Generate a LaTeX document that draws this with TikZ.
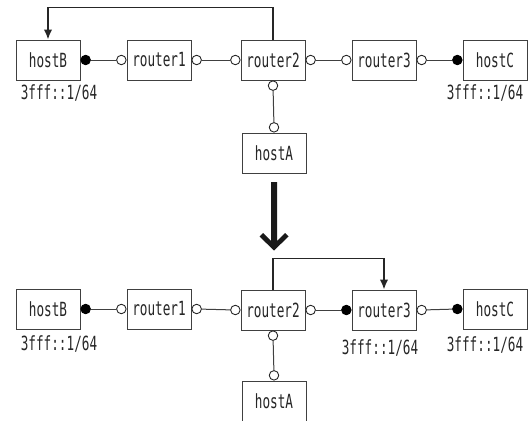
\documentclass[tikz,border=0pt]{standalone}
\usepackage{fontspec}
\newfontfamily\jfont[FakeStretch=0.65]{DejaVu Sans Mono}
\usetikzlibrary{arrows.meta}
\tikzset{
  box/.style={draw=black!75, line width=0.9pt, fill=white, minimum width=64pt, minimum height=40pt, inner sep=0pt, font=\jfont\fontsize{19.5}{22}\selectfont, text=black!85},
  opencirc/.style={circle, draw=black!85, line width=0.9pt, fill=white, minimum size=9.5pt, inner sep=0pt},
  fullcirc/.style={circle, draw=black, line width=0.9pt, fill=black, minimum size=9.5pt, inner sep=0pt},
  link/.style={draw=black!75, line width=1pt},
  flow/.style={draw=black!85, line width=1.7pt, -{Latex[length=10pt,width=8.5pt]}},
  addr/.style={font=\jfont\fontsize{19.5}{22}\selectfont, text=black!85, inner sep=0pt},
}
\begin{document}
\begin{tikzpicture}[x=1pt,y=-1pt]
\useasboundingbox (0,0) rectangle (532,420);
% ---------- top network ----------
\node[box] (hB) at (48,60) {hostB};
\node[box] (r1) at (159,60) {router1};
\node[box] (r2) at (273,60) {router2};
\node[box] (r3) at (384,60) {router3};
\node[box] (hC) at (495,60) {hostC};
\node[box] (hA) at (274,153) {hostA};
\node[fullcirc, anchor=west] (hBe) at (hB.east) {};
\node[opencirc, anchor=east] (r1w) at (r1.west) {};
\node[opencirc, anchor=west] (r1e) at (r1.east) {};
\node[opencirc, anchor=east] (r2w) at (r2.west) {};
\node[opencirc, anchor=west] (r2e) at (r2.east) {};
\node[opencirc, anchor=east] (r3w) at (r3.west) {};
\node[opencirc, anchor=west] (r3e) at (r3.east) {};
\node[fullcirc, anchor=east] (hCw) at (hC.west) {};
\node[opencirc, anchor=north] (r2s) at (r2.south) {};
\node[opencirc, anchor=south] (hAn) at (hA.north) {};
\draw[link] (hBe) -- (r1w);
\draw[link] (r1e) -- (r2w);
\draw[link] (r2e) -- (r3w);
\draw[link] (r3e) -- (hCw);
\draw[link] (r2s) -- (hAn);
\node[addr] (lB) at (59,93) {3fff::1/64};
\node[addr] (lC) at (485,93) {3fff::1/64};
\draw[flow] (r2.north) -- ++(0,-32) -| (hB.north);
% ---------- big arrow ----------
\fill[black!90] (271,182) -- (277,182) -- (277,241) -- (285,233) -- (288.5,236.5) -- (274,250.5) -- (259.5,236.5) -- (263,233) -- (271,241) -- cycle;
% ---------- bottom network ----------
\node[box] (hB2) at (48,309) {hostB};
\node[box] (r12) at (159,309) {router1};
\node[box] (r22) at (273,310) {router2};
\node[box] (r32) at (384,310) {router3};
\node[box] (hC2) at (495,309) {hostC};
\node[box] (hA2) at (274,401) {hostA};
\node[fullcirc, anchor=west] (hBe2) at (hB2.east) {};
\node[opencirc, anchor=east] (r1w2) at (r12.west) {};
\node[opencirc, anchor=west] (r1e2) at (r12.east) {};
\node[opencirc, anchor=east] (r2w2) at (r22.west) {};
\node[opencirc, anchor=west] (r2e2) at (r22.east) {};
\node[fullcirc, anchor=east] (r3w2) at (r32.west) {};
\node[opencirc, anchor=west] (r3e2) at (r32.east) {};
\node[fullcirc, anchor=east] (hCw2) at (hC2.west) {};
\node[opencirc, anchor=north] (r2s2) at (r22.south) {};
\node[opencirc, anchor=south] (hAn2) at (hA2.north) {};
\draw[link] (hBe2) -- (r1w2);
\draw[link] (r1e2) -- (r2w2);
\draw[link] (r2e2) -- (r3w2);
\draw[link] (r3e2) -- (hCw2);
\draw[link] (r2s2) -- (hAn2);
\node[addr] (lB2) at (59,344) {3fff::1/64};
\node[addr] (l32) at (380,348) {3fff::1/64};
\node[addr] (lC2) at (485,345) {3fff::1/64};
\draw[flow] (r22.north) -- ++(0,-31) -| (r32.north);
\end{tikzpicture}
\end{document}
